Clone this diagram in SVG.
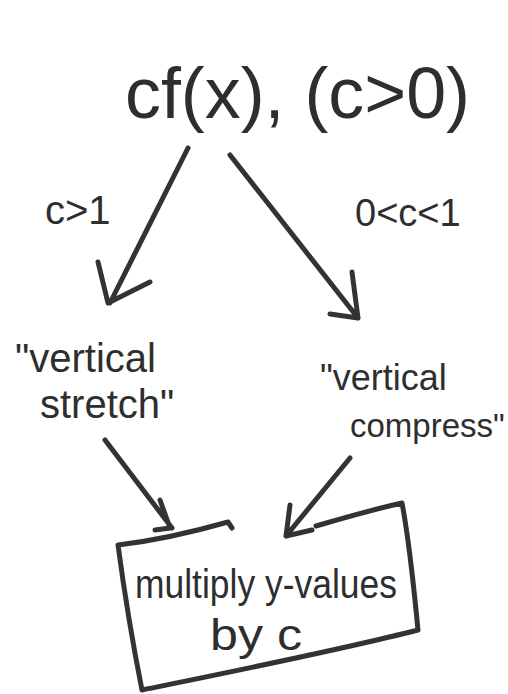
<svg xmlns="http://www.w3.org/2000/svg" width="508" height="694" viewBox="0 0 508 694">
<defs>
<style>
.t{font-family:"Liberation Sans",Arial,sans-serif;fill:#2e2e2e}
.s{fill:none;stroke:#333;stroke-width:5;stroke-linecap:round;stroke-linejoin:round}
</style>
</defs>
<rect width="508" height="694" fill="#fff"/>
<g id="title"><text class="t" x="125" y="118" font-size="72" textLength="345" lengthAdjust="spacingAndGlyphs">cf(x), (c&gt;0)</text></g>
<g id="label-c-gt-1"><text class="t" x="45" y="224" font-size="40">c&gt;1</text></g>
<g id="label-c-between"><text class="t" x="355" y="226" font-size="38">0&lt;c&lt;1</text></g>
<g id="stretch">
<text class="t" x="15" y="372" font-size="40">"vertical</text>
<text class="t" x="40" y="418" font-size="40">stretch"</text>
</g>
<g id="compress">
<text class="t" x="320" y="390" font-size="36">"vertical</text>
<text class="t" x="350" y="437" font-size="33">compress"</text>
</g>
<g id="result">
<path class="s" d="M118,545 C160,540 200,530 228,522 L232,528 M316,526 C350,516 380,508 402,503 C410,545 414,590 418,630 C340,650 230,672 142,690 C132,640 124,590 118,545"/>
<text class="t" x="135" y="598" font-size="40" textLength="262" lengthAdjust="spacingAndGlyphs">multiply y-values</text>
<text class="t" x="210" y="650" font-size="44" textLength="92" lengthAdjust="spacingAndGlyphs">by c</text>
</g>
<g id="connectors">
<path class="s" d="M188,148 L110,303 M98,262 L108,303 L150,282"/>
<path class="s" d="M230,155 L358,318 M352,272 L358,318 L330,314"/>
<path class="s" d="M105,440 L172,528 M160,500 L170,528 L155,530"/>
<path class="s" d="M350,458 L286,536 M290,505 L286,536 L312,530"/>
</g>
</svg>
